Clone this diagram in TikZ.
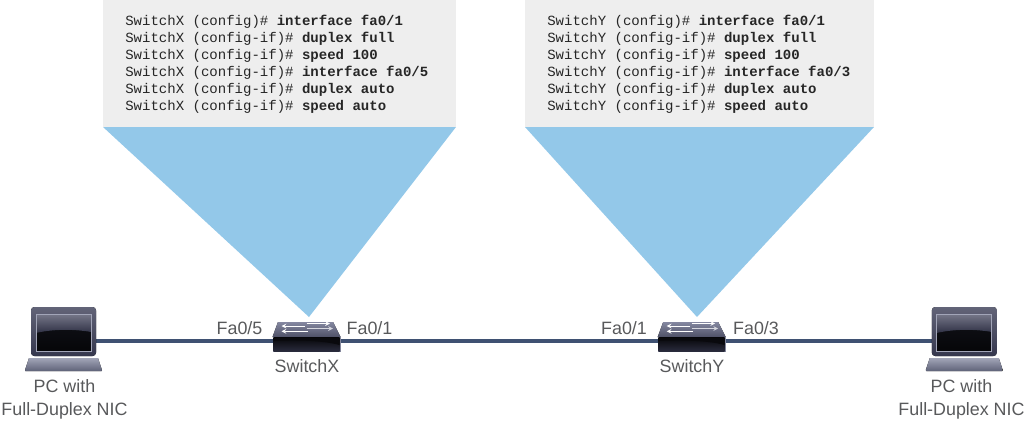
\documentclass[tikz,border=0pt]{standalone}
\usepackage{fontspec}
\setmainfont{Liberation Sans}
\setmonofont{Liberation Mono}
\usetikzlibrary{positioning}
\definecolor{cablecol}{HTML}{3F5172}
\definecolor{textcol}{HTML}{58595B}
\definecolor{panelcol}{HTML}{EEEEEE}
\definecolor{conecol}{HTML}{93C8E9}
\definecolor{bodycol}{HTML}{3B3D56}
\definecolor{basecol}{HTML}{777B96}
\definecolor{rimcol}{HTML}{A2A5B8}
\tikzset{
	cable/.style={draw=cablecol,line width=2.6pt},
	lbl/.style={text=textcol,font=\fontsize{13.4}{17}\selectfont,align=center,inner sep=0pt},
	cfg/.style={font=\ttfamily\fontsize{10.52}{12.75}\selectfont,align=left,anchor=north west,inner sep=0pt,text=black!85},
	pcnode/.style={minimum width=48.75pt,minimum height=20pt,inner sep=0pt},
	swnode/.style={minimum width=50.25pt,minimum height=11pt,inner sep=0pt},
	swarrow/.style={draw=white,line width=.6pt,-stealth},
	pcicon/.pic={
		\fill[top color=rimcol,bottom color=basecol!80!black] (-34.5,17)--(34.5,17)--(38.5,29)--(38,30)--(-38,30)--(-38.5,29)--cycle;
		\fill[rounded corners=2.5pt,top color=bodycol!80!white,bottom color=bodycol!90!black] (-32.5,-34)rectangle(32.5,15);
		\fill[bottom color=black!90!bodycol,top color=black!70!bodycol] (-27.5,-27)rectangle(27.5,10);
		\fill[top color=bodycol!70!white,bottom color=bodycol!80!black] (-27.5,-27)--(27.5,-27)--(27.5,-9) .. controls (10,-12) and (-10,-12) .. (-27.5,-8)--cycle;
		\draw[rimcol,line width=.6pt] (-27.5,-27)rectangle(27.5,10);
	},
	swicon/.pic={
		\fill[top color=basecol!90!white,bottom color=bodycol!90!white] (-28.5,-19)--(26.5,-19)--(34,-4)--(-34,-4)--cycle;
		\fill[rimcol!70!bodycol] (-34,-4)rectangle(34,11);
		\fill[bottom color=bodycol!70!black,top color=black!90!bodycol] (-33,-3.5)rectangle(33,10);
		\fill[black!85!bodycol] (-33,-3.5)--(33,-3.5)--(33,4) .. controls (15,-1) and (-15,-1) .. (-33,0)--cycle;
		\draw[swarrow] (0,-17.5)--(23.5,-17.5);
		\draw[swarrow] (-1.5,-15)--(-25,-15);
		\draw[swarrow,white!70!basecol] (0,-12.5)--(26.5,-12.5);
		\draw[swarrow] (1.5,-9.7)--(-25,-9.7);
	}
}
\begin{document}
\begin{tikzpicture}[x=.75pt,y=-.75pt]
	\useasboundingbox (0,0) rectangle (1026,421);
	% panels
	\fill[panelcol] (103,0) rectangle (456,127);
	\fill[panelcol] (525,0) rectangle (874,127);
	\fill[conecol] (103,127)--(456,127)--(309,317)--cycle;
	\fill[conecol] (525,127)--(874,127)--(697,317)--cycle;
	\node[cfg] (cfgx) at (125,15) {SwitchX (config)\# \textbf{interface fa0/1}\\
		SwitchX (config-if)\# \textbf{duplex full}\\
		SwitchX (config-if)\# \textbf{speed 100}\\
		SwitchX (config-if)\# \textbf{interface fa0/5}\\
		SwitchX (config-if)\# \textbf{duplex auto}\\
		SwitchX (config-if)\# \textbf{speed auto}};
	\node[cfg] (cfgy) at (547,15) {SwitchY (config)\# \textbf{interface fa0/1}\\
		SwitchY (config-if)\# \textbf{duplex full}\\
		SwitchY (config-if)\# \textbf{speed 100}\\
		SwitchY (config-if)\# \textbf{interface fa0/3}\\
		SwitchY (config-if)\# \textbf{duplex auto}\\
		SwitchY (config-if)\# \textbf{speed auto}};
	% devices
	\node[pcnode] (pcl) at (63.5,341) {};
	\node[swnode] (swx) at (306.5,341) {};
	\node[swnode] (swy) at (691.7,341) {};
	\node[pcnode] (pcr) at (964.3,341) {};
	\draw[cable] (pcl)--(swx);
	\draw[cable] (swx)--(swy);
	\draw[cable] (swy)--(pcr);
	\pic at (pcl) {pcicon};
	\pic at (pcr) {pcicon};
	\pic at (swx) {swicon};
	\pic at (swy) {swicon};
	% labels
	\node[lbl] (lblpcl) at (64.5,399.5) {PC with\\Full-Duplex NIC};
	\node[lbl] (lblpcr) at (961.5,399.5) {PC with\\Full-Duplex NIC};
	\node[lbl] (lblswx) at (307,366) {SwitchX};
	\node[lbl] (lblswy) at (692,366) {SwitchY};
	\node[lbl] (lblfa) at (239.5,328) {Fa0/5};
	\node[lbl] (lblfb) at (369.5,328) {Fa0/1};
	\node[lbl] (lblfc) at (624,328) {Fa0/1};
	\node[lbl] (lblfd) at (756,328) {Fa0/3};
\end{tikzpicture}
\end{document}
